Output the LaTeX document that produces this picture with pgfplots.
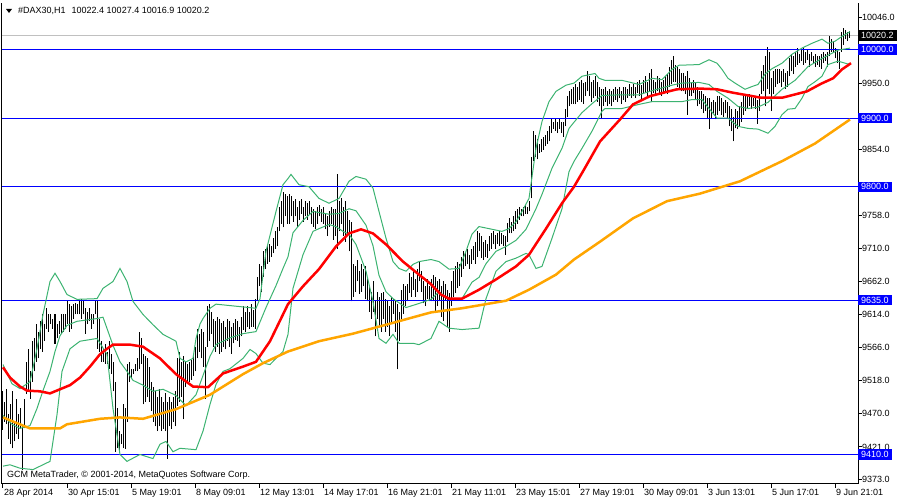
\documentclass[border=0pt]{standalone}
\usepackage{pgfplots}
\pgfplotsset{compat=1.18}
\usepackage{pgfplotstable}
\usepackage{fontspec}
\setmainfont{Liberation Sans}
\definecolor{mtblue}{RGB}{0,0,255}
\definecolor{bbgreen}{RGB}{60,179,113}
\definecolor{maorange}{RGB}{255,165,0}
\definecolor{mared}{RGB}{255,0,0}
\definecolor{bidgray}{RGB}{192,192,192}

% H1 bars: index, high, low
\pgfplotstableread{
i hi lo
0 9502 9446
1 9487 9458
2 9506 9454
3 9469 9433
4 9483 9425
5 9502 9419
6 9458 9429
7 9491 9440
8 9469 9433
9 9477 9448
10 9454 9388
11 9491 9448
12 9545 9498
13 9564 9502
14 9531 9491
15 9575 9516
16 9579 9531
17 9600 9545
18 9589 9550
19 9604 9564
20 9614 9560
21 9600 9575
22 9623 9593
23 9615 9589
24 9614 9600
25 9608 9593
26 9614 9571
27 9600 9579
28 9604 9586
29 9615 9586
30 9614 9589
31 9614 9593
32 9633 9600
33 9629 9589
34 9626 9593
35 9629 9608
36 9630 9614
37 9629 9614
38 9633 9614
39 9636 9608
40 9633 9614
41 9623 9586
42 9618 9600
43 9623 9604
44 9615 9593
45 9614 9600
46 9633 9614
47 9633 9564
48 9608 9560
49 9575 9545
50 9564 9545
51 9571 9542
52 9560 9542
53 9575 9535
54 9557 9527
55 9545 9502
56 9516 9414
57 9477 9419
58 9444 9414
59 9440 9425
60 9483 9419
61 9477 9418
62 9542 9458
63 9545 9516
64 9535 9521
65 9535 9527
66 9542 9531
67 9550 9531
68 9589 9535
69 9579 9542
70 9556 9483
71 9553 9487
72 9550 9494
73 9538 9487
74 9516 9473
75 9509 9458
76 9502 9451
77 9494 9444
78 9505 9451
79 9494 9444
80 9487 9447
81 9499 9444
82 9487 9404
83 9494 9451
84 9487 9447
85 9494 9458
86 9502 9451
87 9550 9480
88 9560 9487
89 9545 9494
90 9553 9461
91 9545 9509
92 9542 9513
93 9545 9516
94 9548 9519
95 9553 9524
96 9567 9531
97 9593 9550
98 9586 9560
99 9593 9550
100 9589 9538
101 9567 9491
102 9626 9567
103 9629 9575
104 9618 9586
105 9607 9567
106 9604 9560
107 9611 9567
108 9607 9557
109 9601 9560
110 9604 9567
111 9596 9563
112 9607 9575
113 9604 9567
114 9596 9557
115 9601 9572
116 9607 9577
117 9604 9575
118 9596 9567
119 9611 9582
120 9626 9592
121 9618 9589
122 9626 9596
123 9618 9593
124 9629 9596
125 9621 9596
126 9637 9593
127 9669 9633
128 9687 9655
129 9684 9647
130 9706 9669
131 9710 9680
132 9713 9688
133 9716 9691
134 9713 9698
135 9725 9703
136 9735 9710
137 9742 9713
138 9771 9735
139 9779 9746
140 9793 9741
141 9790 9757
142 9786 9746
143 9789 9746
144 9786 9757
145 9779 9749
146 9782 9757
147 9771 9742
148 9779 9752
149 9782 9761
150 9771 9749
151 9779 9757
152 9776 9752
153 9779 9761
154 9771 9746
155 9768 9742
156 9764 9738
157 9771 9746
158 9774 9757
159 9767 9749
160 9771 9746
161 9761 9738
162 9757 9728
163 9764 9742
164 9771 9746
165 9767 9723
166 9768 9728
167 9818 9710
168 9779 9735
169 9783 9746
170 9771 9728
171 9779 9720
172 9764 9728
173 9752 9706
174 9749 9633
175 9688 9640
176 9684 9647
177 9694 9662
178 9677 9644
179 9688 9647
180 9680 9655
181 9684 9636
182 9669 9633
183 9655 9618
184 9647 9607
185 9662 9618
186 9633 9582
187 9647 9607
188 9640 9596
189 9645 9589
190 9647 9607
191 9636 9589
192 9633 9596
193 9626 9582
194 9640 9601
195 9637 9615
196 9633 9589
197 9629 9534
198 9618 9575
199 9650 9607
200 9658 9615
201 9655 9626
202 9659 9633
203 9674 9645
204 9669 9640
205 9677 9650
206 9665 9640
207 9680 9647
208 9691 9662
209 9677 9647
210 9662 9630
211 9655 9626
212 9666 9636
213 9655 9633
214 9665 9633
215 9672 9633
216 9669 9618
217 9662 9626
218 9665 9633
219 9655 9611
220 9662 9604
221 9658 9633
222 9650 9596
223 9645 9589
224 9662 9626
225 9677 9640
226 9684 9645
227 9691 9652
228 9688 9655
229 9698 9669
230 9706 9680
231 9703 9684
232 9709 9687
233 9701 9680
234 9710 9688
235 9713 9694
236 9720 9688
237 9735 9698
238 9732 9706
239 9728 9696
240 9720 9694
241 9723 9697
242 9716 9696
243 9728 9706
244 9732 9710
245 9735 9716
246 9730 9710
247 9733 9717
248 9735 9713
249 9732 9716
250 9730 9713
251 9728 9701
252 9747 9720
253 9754 9732
254 9749 9732
255 9757 9735
256 9764 9739
257 9768 9746
258 9771 9752
259 9767 9757
260 9771 9757
261 9774 9761
262 9771 9760
263 9779 9764
264 9844 9783
265 9881 9837
266 9876 9844
267 9869 9840
268 9863 9849
269 9870 9851
270 9873 9854
271 9876 9859
272 9881 9862
273 9888 9866
274 9898 9878
275 9895 9884
276 9900 9881
277 9895 9878
278 9898 9884
279 9895 9878
280 9895 9873
281 9913 9888
282 9932 9902
283 9939 9917
284 9942 9920
285 9945 9921
286 9949 9920
287 9946 9924
288 9953 9927
289 9956 9924
290 9951 9921
291 9953 9932
292 9968 9939
293 9961 9932
294 9953 9924
295 9956 9929
296 9961 9932
297 9953 9924
298 9946 9917
299 9943 9900
300 9942 9918
301 9945 9924
302 9939 9917
303 9942 9921
304 9939 9917
305 9942 9924
306 9945 9927
307 9943 9924
308 9946 9929
309 9939 9921
310 9945 9927
311 9946 9924
312 9943 9929
313 9949 9932
314 9946 9929
315 9949 9932
316 9945 9929
317 9953 9936
318 9956 9932
319 9948 9927
320 9956 9935
321 9961 9936
322 9953 9932
323 9965 9939
324 9972 9924
325 9956 9936
326 9953 9932
327 9961 9939
328 9958 9935
329 9953 9932
330 9956 9936
331 9961 9939
332 9964 9935
333 9974 9946
334 9985 9949
335 9990 9953
336 9978 9953
337 9974 9946
338 9971 9943
339 9965 9939
340 9965 9939
341 9961 9935
342 9968 9905
343 9958 9932
344 9953 9932
345 9956 9936
346 9953 9927
347 9946 9917
348 9939 9920
349 9939 9913
350 9935 9907
351 9932 9910
352 9929 9898
353 9929 9884
354 9924 9900
355 9927 9907
356 9924 9898
357 9932 9905
358 9932 9910
359 9929 9905
360 9924 9902
361 9927 9907
362 9924 9898
363 9917 9888
364 9914 9881
365 9902 9866
366 9913 9885
367 9910 9884
368 9917 9888
369 9924 9895
370 9932 9905
371 9935 9910
372 9932 9913
373 9935 9917
374 9932 9914
375 9929 9917
376 9932 9913
377 9927 9892
378 9935 9910
379 9968 9935
380 9978 9939
381 9990 9917
382 10004 9943
383 9997 9935
384 9958 9910
385 9968 9935
386 9972 9946
387 9971 9949
388 9972 9951
389 9968 9946
390 9971 9953
391 9965 9943
392 9968 9946
393 9987 9961
394 9993 9968
395 9990 9964
396 9997 9975
397 10002 9978
398 9994 9980
399 10000 9983
400 10002 9978
401 9997 9980
402 10000 9985
403 9994 9975
404 9997 9983
405 9990 9980
406 9994 9975
407 9990 9978
408 9990 9975
409 9993 9972
410 9997 9980
411 9994 9983
412 9997 9975
413 10019 9990
414 10015 9997
415 10012 9997
416 10002 9987
417 10000 9980
418 9997 9972
419 10026 9997
420 10031 10007
421 10029 10015
422 10026 10012
423 10027.4 10016.9
}\bars

\pgfplotstableread{
i v
0 9537
3.5 9522
8.5 9509
12 9503
18.5 9502
23.5 9499
28.5 9505
33.5 9511
38.5 9522
43.5 9538
48.5 9556
52 9564
55 9570
63.5 9570
70 9567
78.5 9550
86.5 9527
95 9509
102.5 9508
110 9528
120 9538
126.5 9545
133.5 9575
142.5 9629
150 9655
158 9680
166.5 9713
173 9732
179 9738
185 9732
191.5 9716
200 9691
208 9672
214 9658
219 9643
223 9637
229.5 9637
238 9650
246.5 9665
256.5 9684
263 9701
271.5 9739
279.5 9776
285.5 9800
290.5 9825
298.5 9866
308.5 9898
315 9920
323.5 9932
337 9942
348.5 9943
357 9942
365 9937
378.5 9930
390 9930
402 9939
409 9950
415 9958
419.5 9971
424 9980
}\mared

\pgfplotstableread{
i v
0 9464
13.5 9448
28.5 9448
32 9454
48.5 9462
58.5 9464
70 9462
86.5 9476
103.5 9497
120 9527
130 9543
142.5 9560
158 9575
175 9586
191.5 9599
214 9617
229.5 9623
251.5 9634
263 9650
276.5 9672
285.5 9694
298.5 9720
315 9754
332 9779
348.5 9790
368.5 9808
390 9838
406 9863
423.5 9898
}\maorange

\pgfplotstableread{
i v
0 9541
4.5 9513
8.5 9506
13.5 9516
17 9564
20 9614
23.5 9662
26 9674
28.5 9662
32 9643
37 9636
47 9637
50 9652
55 9662
58.5 9681
62 9662
65 9633
70 9614
75 9599
80 9585
86.5 9575
88.5 9550
91.5 9545
95 9550
96.5 9579
98.5 9600
100 9608
103.5 9623
106.5 9629
116.5 9626
126.5 9623
128.5 9637
131.5 9706
136.5 9764
140 9803
142.5 9812
144 9818
148 9803
153 9800
158 9783
163 9776
168 9783
173 9808
176.5 9815
181.5 9811
185 9798
188 9764
191.5 9725
195 9691
198 9681
201.5 9677
205 9687
208 9691
214 9694
218 9691
223 9680
228 9681
231.5 9706
234.5 9731
238 9742
243 9739
249.5 9735
253 9739
256.5 9749
259.5 9764
263 9783
266.5 9856
269.5 9895
273 9924
276.5 9939
281.5 9948
285.5 9951
289.5 9961
296 9965
298 9958
301 9955
309.5 9955
318 9949
324.5 9958
329.5 9956
334.5 9971
338 9977
348 9978
353 9985
357 9980
359.5 9971
362.5 9958
366 9951
371 9942
374.5 9946
377.5 9949
381 9964
384.5 9972
389.5 9980
394.5 9993
399.5 10002
404.5 10009
409.5 10015
412.5 10009
416 10012
419.5 10019
423.5 10026
}\bbup

\pgfplotstableread{
i v
0 9467
4.5 9454
8.5 9448
13.5 9452
17 9477
20 9503
23.5 9531
26 9560
28.5 9583
32 9598
37 9604
47 9608
50 9610
55 9569
58.5 9545
62 9531
65 9518
70 9511
75 9502
80 9505
86.5 9496
91.5 9481
96.5 9497
100 9525
103.5 9553
106.5 9570
113.5 9580
120 9586
126.5 9589
131.5 9624
136.5 9656
140 9681
142.5 9698
145 9733
150 9751
155 9764
163 9760
168 9761
173 9768
176.5 9765
181.5 9744
185 9714
188 9671
191.5 9647
195 9637
201.5 9624
208 9630
214 9636
218 9647
223 9636
229.5 9637
234.5 9661
238 9668
241.5 9688
246.5 9706
251.5 9713
256.5 9722
261.5 9738
266.5 9768
269.5 9789
274.5 9827
279.5 9856
283 9885
285.5 9894
289.5 9908
294.5 9921
299.5 9933
309.5 9934
318 9934
324.5 9940
334.5 9948
339.5 9951
348 9952
353 9949
357 9939
362.5 9929
367.5 9917
372.5 9914
377.5 9916
382.5 9923
389.5 9942
396 9955
402.5 9975
409.5 9987
417.5 9999
423.5 10002
}\bbmid

\pgfplotstableread{
i v
0 9393
3.5 9395
8.5 9390
15 9388
23.5 9400
27 9468
29.5 9531
33.5 9564
38.5 9575
47 9579
52 9556
55 9477
58.5 9410
62 9400
68.5 9410
75 9404
78.5 9425
81.5 9429
85 9414
88.5 9419
96.5 9417
100 9444
103.5 9483
106.5 9512
110 9531
113.5 9535
120 9550
123.5 9563
126.5 9557
130 9543
133.5 9541
136.5 9550
140 9560
142.5 9585
145 9652
150 9701
155 9735
158 9739
163 9745
166.5 9742
170 9735
173 9731
176.5 9716
181.5 9677
185 9633
188 9579
191.5 9572
195 9585
198 9572
205 9572
208 9570
214 9579
218 9604
223 9594
229.5 9592
238 9594
241.5 9637
246.5 9677
251.5 9691
256.5 9696
261.5 9703
263 9701
266.5 9681
269.5 9684
274.5 9725
279.5 9768
283 9822
285.5 9837
289.5 9856
294.5 9881
299.5 9910
301 9914
309.5 9914
318 9920
324.5 9924
339.5 9924
344.5 9927
349.5 9927
353 9914
357 9900
362.5 9900
367.5 9888
372.5 9885
377.5 9884
382.5 9878
386 9888
389.5 9905
392.5 9913
396 9914
399.5 9929
402.5 9946
406 9953
409.5 9961
412.5 9978
417.5 9983
423.5 9978
}\bblow

\begin{document}
\begin{tikzpicture}[x=1pt,y=1pt]
\useasboundingbox (0,0) rectangle (900,500);
\begin{axis}[
  at={(1,24)}, anchor=south west,
  width=856pt, height=481pt, scale only axis,
  xmin=-0.5, xmax=427.5, ymin=9367.7, ymax=10068.4,
  clip mode=individual,
  axis x line*=bottom, axis y line*=right,
  axis line style={black, line width=1pt, -},
  tick align=outside, major tick length=4pt,
  every tick/.style={black, line width=1pt},
  tick label style={font=\fontsize{9}{10}\selectfont},
  xtick={0,32,...,416},
  xticklabels={28 Apr 2014,30 Apr 15:01,5 May 19:01,8 May 09:01,12 May 13:01,14 May 17:01,16 May 21:01,21 May 11:01,23 May 15:01,27 May 19:01,30 May 09:01,3 Jun 13:01,5 Jun 17:01,9 Jun 21:01},
  xticklabel style={anchor=base west, inner sep=0pt, xshift=1pt, yshift=-8pt},
  ytick={10046,9950,9854,9758,9710,9662,9614,9566,9518,9470,9421,9373},
  yticklabels={10046.0,9950.0,9854.0,9758.0,9710.0,9662.0,9614.0,9566.0,9518.0,9470.0,9421.0,9373.0},
  yticklabel style={anchor=west, inner sep=0pt, xshift=0pt},
]
\draw[black, line width=1pt] (rel axis cs:0,0) -- (rel axis cs:0,1);
\addplot[bidgray, line width=1pt] coordinates {(-0.5,10020.2) (427.5,10020.2)};
\addplot[draw=none, error bars/.cd, y dir=plus, y explicit, error mark=none,
  error bar style={draw=black, solid, line width=1pt}]
  table[x=i, y=lo, y error expr=\thisrow{hi}-\thisrow{lo}] {\bars};
\addplot[mtblue, line width=1pt] coordinates {(-0.5,10000) (427.5,10000)};
\addplot[mtblue, line width=1pt] coordinates {(-0.5,9900) (427.5,9900)};
\addplot[mtblue, line width=1pt] coordinates {(-0.5,9800) (427.5,9800)};
\addplot[mtblue, line width=1pt] coordinates {(-0.5,9635) (427.5,9635)};
\addplot[mtblue, line width=1pt] coordinates {(-0.5,9410) (427.5,9410)};
\addplot[bbgreen, line width=1pt] table[x=i, y=v] {\bbup};
\addplot[bbgreen, line width=1pt] table[x=i, y=v] {\bbmid};
\addplot[bbgreen, line width=1pt] table[x=i, y=v] {\bblow};
\addplot[maorange, line width=2.5pt] table[x=i, y=v] {\maorange};
\addplot[mared, line width=2.5pt] table[x=i, y=v] {\mared};
\foreach \lv/\lt in {10000/10000.0, 9900/9900.0, 9800/9800.0, 9635/9635.0, 9410/9410.0} {
  \edef\tmp{\noexpand\node[fill=mtblue, text=white, anchor=west, inner xsep=3pt, inner ysep=2pt,
    font=\noexpand\fontsize{9}{10}\noexpand\selectfont] at (axis cs:427.5,\lv) {\lt};}
  \tmp
}
\node[fill=black, text=white, anchor=west, inner xsep=3pt, inner ysep=2pt,
  font=\fontsize{9}{10}\selectfont] at (axis cs:427.5,10020.2) {10020.2};
\end{axis}
\fill[black] (6,491) -- (12,491) -- (9,487) -- cycle;
\node[anchor=base west, inner sep=0pt, font=\fontsize{9}{10}\selectfont] at (18,486) {\#DAX30,H1\hspace{6pt}10022.4 10027.4 10016.9 10020.2};
\node[anchor=base west, inner sep=0pt, font=\fontsize{9}{10}\selectfont] at (7,22) {GCM MetaTrader, © 2001-2014, MetaQuotes Software Corp.};
\end{tikzpicture}
\end{document}
